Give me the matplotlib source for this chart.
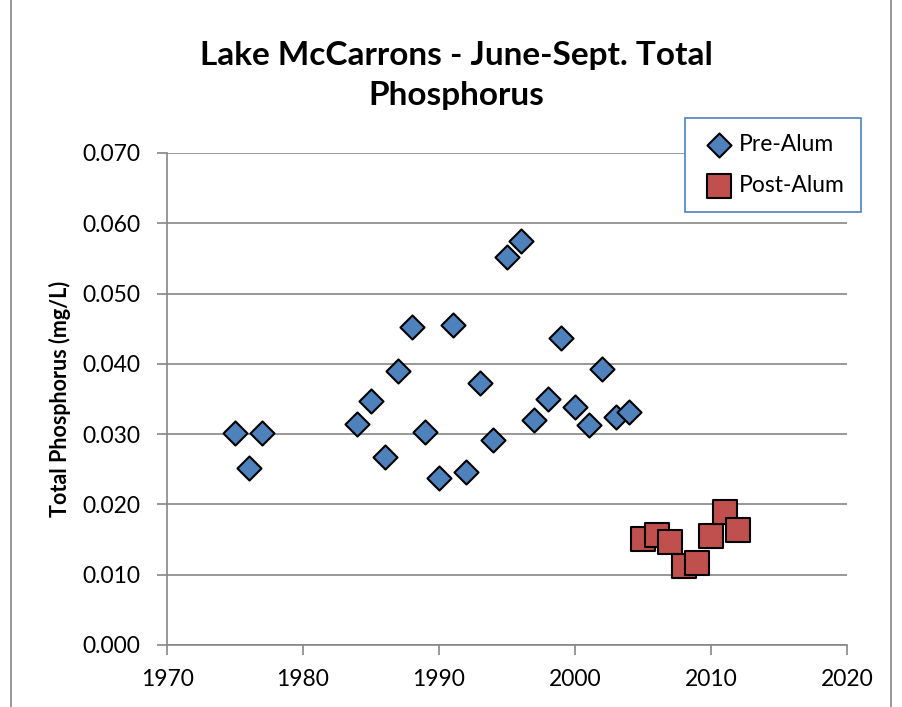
import matplotlib.pyplot as plt
from matplotlib.patches import Rectangle

plt.rcParams['font.family'] = ['Lato', 'DejaVu Sans']

# Данные: среднее за июнь-сентябрь, мг/л
pre_years = [1975, 1976, 1977, 1984, 1985, 1986, 1987, 1988, 1989, 1990,
             1991, 1992, 1993, 1994, 1995, 1996, 1997, 1998, 1999, 2000,
             2001, 2002, 2003, 2004]
pre_tp = [0.0302, 0.0252, 0.0302, 0.0314, 0.0347, 0.0267, 0.0390, 0.0452,
          0.0303, 0.0238, 0.0455, 0.0246, 0.0373, 0.0292, 0.0552, 0.0575,
          0.0320, 0.0350, 0.0437, 0.0339, 0.0313, 0.0393, 0.0324, 0.0331]

post_years = [2005, 2006, 2007, 2008, 2009, 2010, 2011, 2012]
post_tp = [0.0151, 0.0156, 0.0147, 0.0112, 0.0117, 0.0155, 0.0189, 0.0164]

fig = plt.figure(figsize=(9.03, 7.07), dpi=100)
ax = fig.add_axes([0.185, 0.0877, 0.753, 0.6959])

ax.scatter(pre_years, pre_tp, marker='D', s=150, color='#4f81bd',
           edgecolor='black', linewidth=1.5, label='Pre-Alum', zorder=3)
ax.scatter(post_years, post_tp, marker='s', s=300, color='#c0504d',
           edgecolor='black', linewidth=1.5, label='Post-Alum', zorder=3)

ax.set_xlim(1970, 2020)
ax.set_ylim(0, 0.070)
ax.set_xticks(range(1970, 2021, 10))
ax.set_yticks([i * 0.01 for i in range(8)])
ax.set_yticklabels(['%.3f' % (i * 0.01) for i in range(8)])
ax.tick_params(labelsize=16.5, direction='out', length=7, color='#868686', width=1.2)
ax.tick_params(axis='x', pad=10)
ax.tick_params(axis='y', pad=12)
ax.grid(axis='y', color='#868686', linewidth=1.2)
ax.set_axisbelow(True)
for s in ['top', 'right']:
    ax.spines[s].set_visible(False)
for s in ['left', 'bottom']:
    ax.spines[s].set_color('#868686')
    ax.spines[s].set_linewidth(1.2)

ax.set_ylabel('Total Phosphorus (mg/L)', fontsize=15.5, fontweight='bold', labelpad=8)

fig.text(0.505, 0.893, 'Lake McCarrons - June-Sept. Total\nPhosphorus', ha='center',
         va='center', fontsize=24, fontweight='bold', linespacing=1.45)

leg = ax.legend(loc='upper right', bbox_to_anchor=(1.02, 1.072), fontsize=16.5,
                frameon=True, fancybox=False, borderpad=0.7, labelspacing=0.9,
                handletextpad=0.05, handlelength=1.6, borderaxespad=0)
leg.get_frame().set_edgecolor('#4f81bd')
leg.get_frame().set_linewidth(1.2)
leg.get_frame().set_alpha(1)

fig.patches.append(Rectangle((0.012, -0.01), 0.975, 1.02, transform=fig.transFigure,
                             fill=False, edgecolor='#868686', linewidth=1.2))

fig.savefig('out.png', dpi=100)
